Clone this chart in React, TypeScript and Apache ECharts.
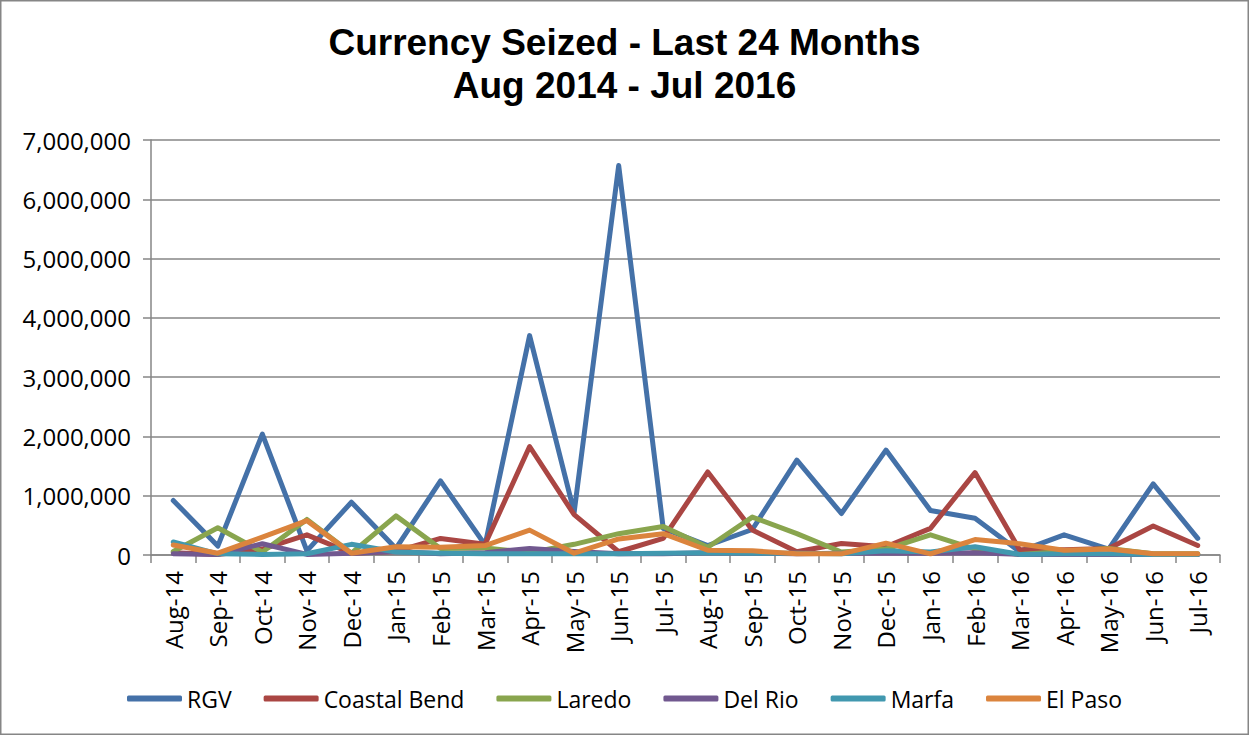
import React, { useEffect, useRef } from "react";
import * as echarts from "echarts";

const months = ["Aug-14","Sep-14","Oct-14","Nov-14","Dec-14","Jan-15","Feb-15","Mar-15","Apr-15","May-15","Jun-15","Jul-15","Aug-15","Sep-15","Oct-15","Nov-15","Dec-15","Jan-16","Feb-16","Mar-16","Apr-16","May-16","Jun-16","Jul-16"];

const rgv = [920000,150000,2040000,70000,890000,110000,1250000,170000,3700000,720000,6570000,450000,160000,430000,1600000,700000,1770000,750000,620000,60000,340000,100000,1200000,280000];
const coastalBend = [40000,10000,100000,340000,30000,60000,280000,180000,1830000,680000,55000,280000,1400000,420000,55000,195000,140000,450000,1390000,90000,90000,110000,490000,160000];
const laredo = [60000,460000,50000,600000,30000,660000,110000,120000,40000,180000,360000,480000,130000,640000,360000,50000,100000,340000,100000,10000,60000,110000,20000,20000];
const delRio = [20000,10000,190000,10000,30000,60000,20000,40000,110000,60000,20000,20000,40000,30000,20000,30000,30000,30000,40000,10000,10000,10000,10000,10000];
const marfa = [220000,20000,10000,20000,180000,50000,30000,20000,20000,20000,20000,30000,40000,30000,30000,20000,70000,50000,140000,10000,20000,20000,10000,10000];
const elPaso = [170000,30000,300000,580000,30000,140000,130000,160000,420000,30000,270000,360000,80000,70000,20000,20000,200000,20000,260000,190000,80000,100000,20000,20000];

const seriesNames = ["RGV","Coastal Bend","Laredo","Del Rio","Marfa","El Paso"];
const seriesData = [rgv, coastalBend, laredo, delRio, marfa, elPaso];
const colors = ["#4471A8","#AA4643","#89A54E","#71588F","#4198AF","#DB843D"];

const titleText = "Currency Seized - Last 24 Months\nAug 2014 - Jul 2016";

export default function App() {
  const ref = useRef<HTMLDivElement>(null);
  useEffect(() => {
    if (!ref.current) return;
    const chart = echarts.init(ref.current, undefined, { renderer: "svg" });
    const axisFont = "'Open Sans', sans-serif";
    chart.setOption({
      animation: false,
      backgroundColor: "#ffffff",
      color: colors,
      title: {
        text: titleText,
        left: "center",
        top: 16,
        textStyle: {
          fontFamily: "'Liberation Sans', Arial, sans-serif",
          fontWeight: "bold",
          fontSize: 37,
          lineHeight: 43,
          color: "#000",
        },
      },
      graphic: [
        {
          type: "rect",
          shape: { x: 0.75, y: 0.75, width: 1247.5, height: 733.5 },
          style: { fill: "none", stroke: "#868686", lineWidth: 1.5 },
          silent: true,
        },
      ],
      legend: {
        data: seriesNames,
        left: "center",
        top: 682,
        icon: "roundRect",
        itemWidth: 55,
        itemHeight: 6,
        itemGap: 32,
        textStyle: { fontFamily: axisFont, fontSize: 23, color: "#000" },
      },
      grid: { left: 151, right: 29, top: 140, bottom: 180 },
      xAxis: {
        type: "category",
        data: months,
        boundaryGap: true,
        axisLine: { lineStyle: { color: "#868686", width: 1.5 } },
        axisTick: { show: true, length: 8, alignWithLabel: false, lineStyle: { color: "#868686", width: 1.5 } },
        axisLabel: {
          rotate: 90,
          interval: 0,
          margin: 16,
          fontFamily: axisFont,
          fontSize: 24,
          color: "#000",
        },
      },
      yAxis: {
        type: "value",
        min: 0,
        max: 7000000,
        interval: 1000000,
        axisLine: { show: true, lineStyle: { color: "#868686", width: 1.5 } },
        axisTick: { show: true, length: 8, lineStyle: { color: "#868686", width: 1.5 } },
        splitLine: { lineStyle: { color: "#868686", width: 1.5 } },
        axisLabel: {
          margin: 20,
          fontFamily: axisFont,
          fontSize: 24,
          color: "#000",
          formatter: (v: number) => v.toLocaleString("en-US"),
        },
      },
      series: seriesNames.map((name, i) => ({
        name,
        type: "line",
        data: seriesData[i],
        symbol: "none",
        lineStyle: { width: 5, color: colors[i], join: "round", cap: "round" },
        itemStyle: { color: colors[i] },
      })),
    });
    return () => chart.dispose();
  }, []);
  return (
    <div
      ref={ref}
      style={{ position: "fixed", left: 0, top: 0, width: 1249, height: 735 }}
    />
  );
}
